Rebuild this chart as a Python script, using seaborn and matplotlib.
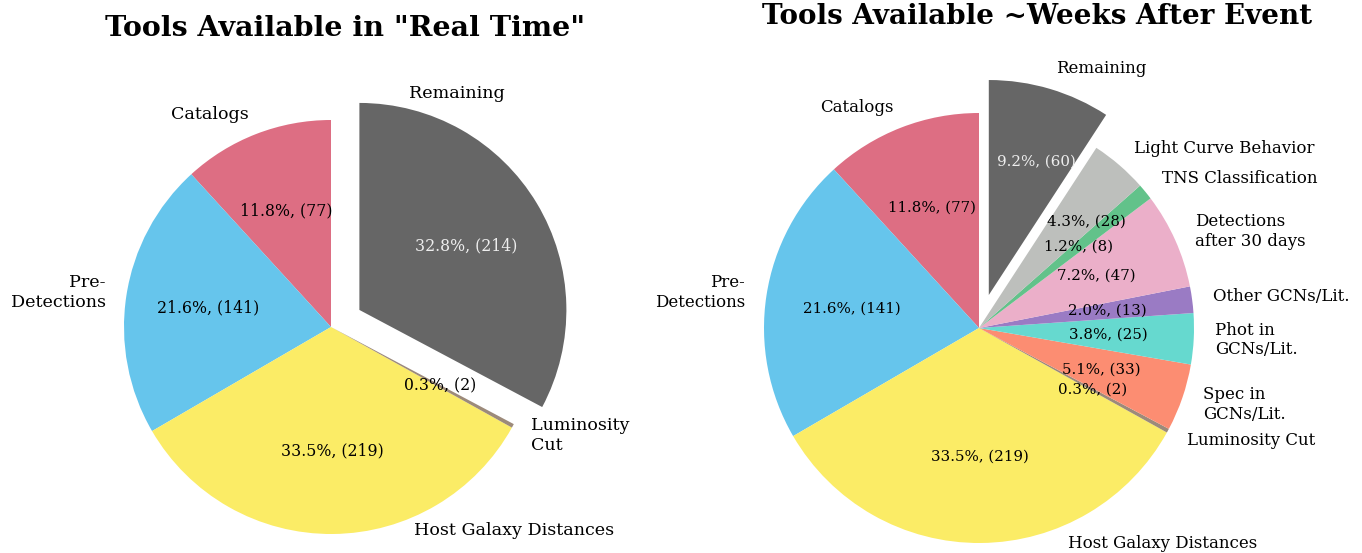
import matplotlib
matplotlib.use("Agg")
import matplotlib.pyplot as plt
import seaborn as sns

# data
rt_labels = ["Catalogs", "Pre-\nDetections", "Host Galaxy Distances", "Luminosity\nCut", "Remaining"]
rt_counts = [77, 141, 219, 2, 214]
rt_colors = ["#dd6e83", "#66c5ec", "#fbec66", "#9c8a7a", "#666666"]

wk_labels = [
    "Catalogs", "Pre-\nDetections", "Host Galaxy Distances", "Luminosity Cut",
    "Spec in\nGCNs/Lit.", "Phot in\nGCNs/Lit.", "Other GCNs/Lit.",
    "Detections\nafter 30 days", "TNS Classification", "Light Curve Behavior", "Remaining",
]
wk_counts = [77, 141, 219, 2, 33, 25, 13, 47, 8, 28, 60]
wk_colors = [
    "#dd6e83", "#66c5ec", "#fbec66", "#9c8a7a", "#fc8d72", "#66d9cf",
    "#9a7bc4", "#ebafc9", "#62c28a", "#bdbfbc", "#666666",
]

sns.set_style("white")
plt.rcParams["font.family"] = ["DejaVu Serif"]
plt.rcParams["text.color"] = "black"

fig = plt.figure(figsize=(13.62, 5.53), dpi=100)
W, H = 1362, 553


def place_axes(cx, cy, r):
    size = 2.5 * r
    return fig.add_axes([(cx - size / 2) / W, (H - cy - size / 2) / H, size / W, size / H])


def make_pct(counts):
    total = sum(counts)

    def fmt(pct):
        n = int(round(pct * total / 100.0))
        return f"{pct:.1f}%, ({n})"
    return fmt


def draw_pie(ax, counts, labels, colors, label_size, pct_size):
    explode = [0.0] * (len(counts) - 1) + [0.16]
    wedges, texts, autotexts = ax.pie(
        counts,
        labels=labels,
        colors=sns.color_palette(colors),
        explode=explode,
        startangle=90,
        autopct=make_pct(counts),
        pctdistance=0.6,
        labeldistance=1.1,
        wedgeprops={"linewidth": 0},
        textprops={"fontsize": label_size, "color": "black"},
    )
    for t in autotexts:
        t.set_fontsize(pct_size)
    autotexts[-1].set_color("#eeeeee")
    ax.set_xlim(-1.25, 1.25)
    ax.set_ylim(-1.25, 1.25)
    ax.set_aspect("equal")
    ax.axis("off")
    return texts, autotexts


ax1 = place_axes(331, 327, 207)
t1, p1 = draw_pie(ax1, rt_counts, rt_labels, rt_colors, 12.6, 11.3)
# hand-placed labels, as in the original
t1[2].set_position((0.40, -0.985))
t1[2].set_ha("left")
t1[4].set_position((0.377, 1.13))
t1[4].set_ha("left")

ax2 = place_axes(979, 328, 215)
t2, p2 = draw_pie(ax2, wk_counts, wk_labels, wk_colors, 12, 10.8)
t2[2].set_position((0.414, -1.0))
t2[2].set_ha("left")
p2[-1].set_position((0.265, 0.772))
p2[-2].set_position((0.498, 0.493))

fig.text(345 / W, 1 - 28 / H, 'Tools Available in "Real Time"', ha="center", va="center",
         fontsize=20.5, fontweight="bold")
fig.text(1037 / W, 1 - 16 / H, "Tools Available ~Weeks After Event", ha="center", va="center",
         fontsize=20, fontweight="bold")

fig.savefig("out.png", dpi=100)
